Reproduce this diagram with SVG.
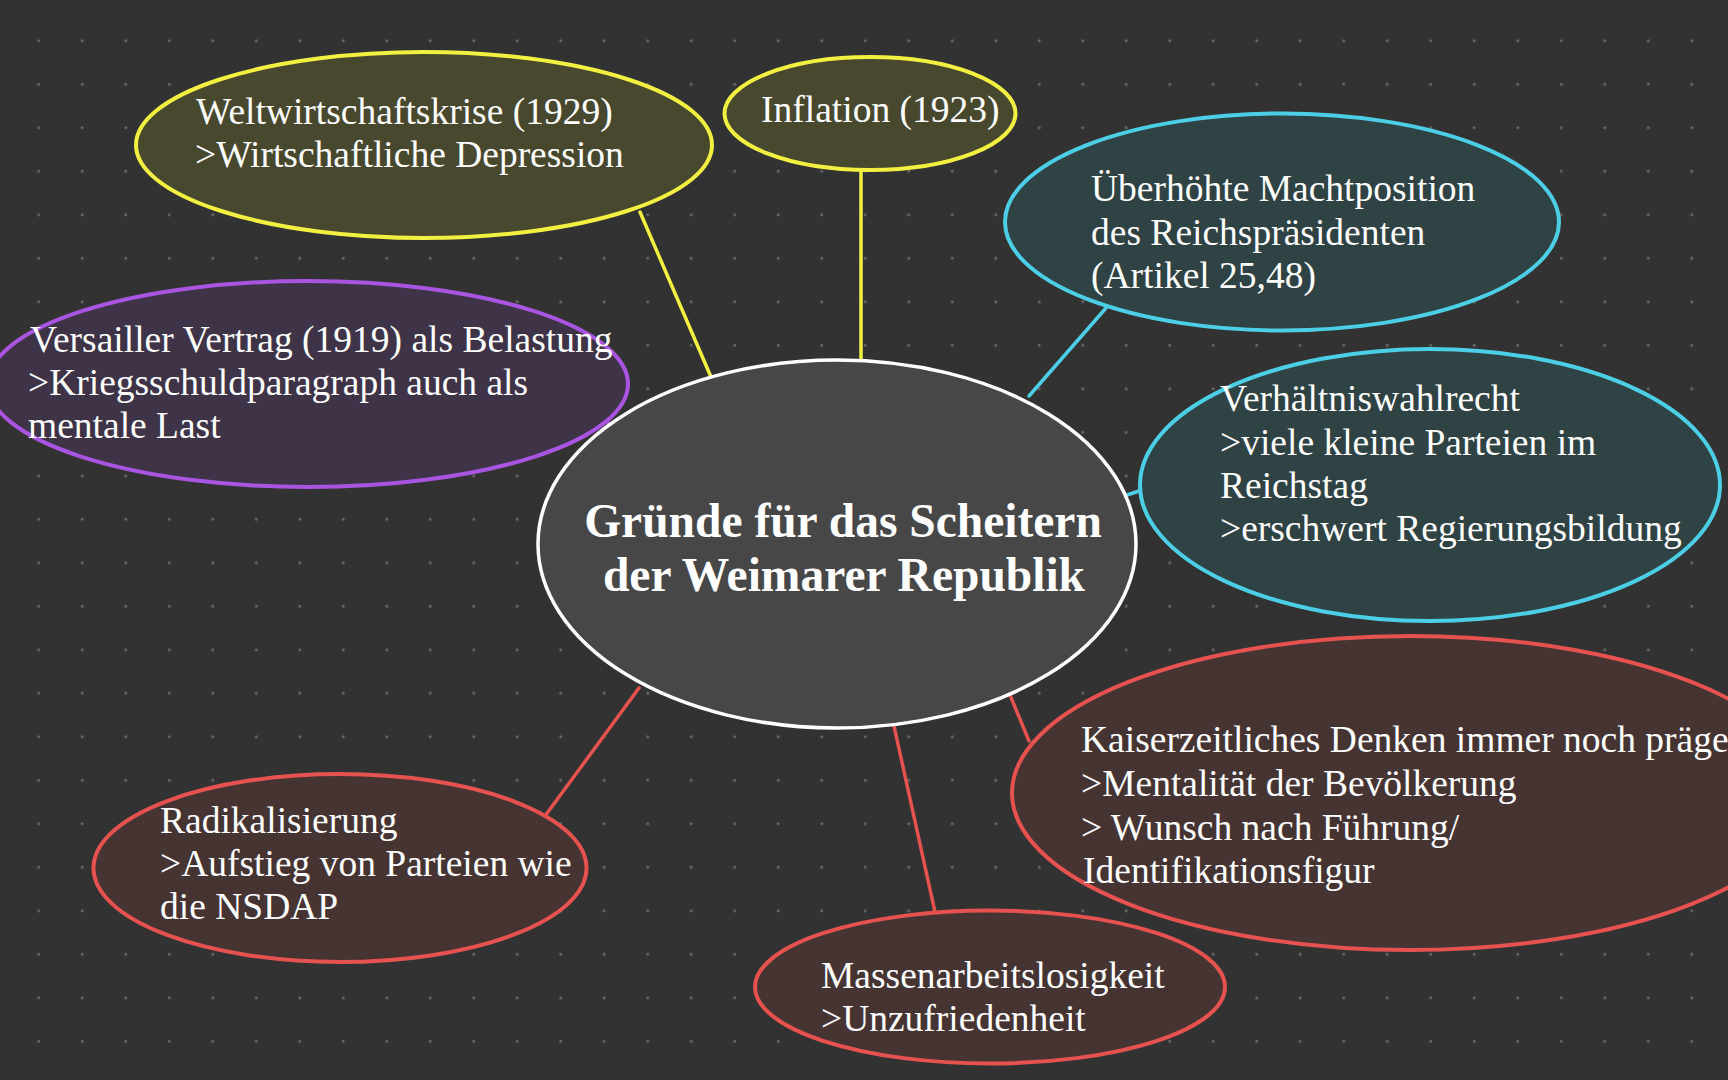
<svg xmlns="http://www.w3.org/2000/svg" width="1728" height="1080" viewBox="0 0 1728 1080">
<defs>
<pattern id="dots" patternUnits="userSpaceOnUse" x="17" y="19" width="43.5" height="43.5">
<circle cx="21.75" cy="21.75" r="1.5" fill="#6a6a6a"/>
</pattern>
<style>
.t{font-family:"Liberation Serif","Times New Roman",serif;font-size:37.5px;fill:#ffffff;}
.title{font-family:"Liberation Serif","Times New Roman",serif;font-size:47.5px;font-weight:bold;fill:#ffffff;text-anchor:middle;}
.yl{fill:#48482f;stroke:#f2f040;stroke-width:4;}
.cy{fill:#2f4244;stroke:#4ccfe6;stroke-width:4;}
.pu{fill:#3e3347;stroke:#a955e2;stroke-width:4;}
.rd{fill:#463433;stroke:#e5524f;stroke-width:4;}
.ce{fill:#474747;stroke:#ffffff;stroke-width:3.5;}
.c{fill:none;stroke-width:3.5;stroke-linecap:round;}
</style>
</defs>
<rect width="1728" height="1080" fill="#323232"/>
<rect width="1728" height="1080" fill="url(#dots)"/>
<g id="connectors">
<line class="c" x1="640" y1="212" x2="711" y2="377" stroke="#f2f040"/>
<line class="c" x1="861" y1="170" x2="861" y2="361" stroke="#f2f040"/>
<line class="c" x1="1106" y1="308" x2="1029" y2="396" stroke="#4ccfe6"/>
<line class="c" x1="1127" y1="495" x2="1142" y2="490" stroke="#4ccfe6"/>
<line class="c" x1="603" y1="416" x2="612" y2="428" stroke="#a955e2" stroke-width="4"/>
<line class="c" x1="639" y1="688" x2="545" y2="816" stroke="#e5524f"/>
<line class="c" x1="894" y1="726" x2="935" y2="912" stroke="#e5524f"/>
<line class="c" x1="1010" y1="695" x2="1029" y2="741" stroke="#e5524f"/>
</g>
<g id="center">
<ellipse class="ce" cx="837" cy="544" rx="299" ry="184"/>
<text class="title" x="843" y="537">Gründe für das Scheitern</text>
<text class="title" x="844" y="591">der Weimarer Republik</text>
</g>
<g id="weltwirtschaftskrise">
<ellipse class="yl" cx="424" cy="145" rx="288" ry="93"/>
<text class="t" x="196" y="124">Weltwirtschaftskrise (1929)</text>
<text class="t" x="195" y="167">&gt;Wirtschaftliche Depression</text>
</g>
<g id="inflation">
<ellipse class="yl" cx="870" cy="113.5" rx="145.5" ry="56.5"/>
<text class="t" x="761" y="122">Inflation (1923)</text>
</g>
<g id="machtposition">
<ellipse class="cy" cx="1282" cy="222" rx="277" ry="108.5"/>
<text class="t" x="1091" y="201">Überhöhte Machtposition</text>
<text class="t" x="1091" y="245">des Reichspräsidenten</text>
<text class="t" x="1091" y="288">(Artikel 25,48)</text>
</g>
<g id="verhaeltniswahlrecht">
<ellipse class="cy" cx="1430" cy="485" rx="290" ry="136"/>
<text class="t" x="1220" y="411">Verhältniswahlrecht</text>
<text class="t" x="1220" y="455">&gt;viele kleine Parteien im</text>
<text class="t" x="1220" y="498">Reichstag</text>
<text class="t" x="1220" y="541">&gt;erschwert Regierungsbildung</text>
</g>
<g id="versailler">
<ellipse class="pu" cx="308" cy="384" rx="320" ry="103"/>
<text class="t" x="30" y="352">Versailler Vertrag (1919) als Belastung</text>
<text class="t" x="28" y="395">&gt;Kriegsschuldparagraph auch als</text>
<text class="t" x="28" y="438">mentale Last</text>
</g>
<g id="radikalisierung">
<ellipse class="rd" cx="340" cy="868" rx="246.5" ry="94"/>
<text class="t" x="160" y="833">Radikalisierung</text>
<text class="t" x="160" y="876">&gt;Aufstieg von Parteien wie</text>
<text class="t" x="160" y="919">die NSDAP</text>
</g>
<g id="massenarbeitslosigkeit">
<ellipse class="rd" cx="990" cy="987" rx="235" ry="76.5"/>
<text class="t" x="821" y="988">Massenarbeitslosigkeit</text>
<text class="t" x="821" y="1031">&gt;Unzufriedenheit</text>
</g>
<g id="kaiserzeitliches">
<ellipse class="rd" cx="1410" cy="793" rx="398" ry="157"/>
<text class="t" x="1081" y="752">Kaiserzeitliches Denken immer noch präge</text>
<text class="t" x="1081" y="796">&gt;Mentalität der Bevölkerung</text>
<text class="t" x="1081" y="840">&gt; Wunsch nach Führung/</text>
<text class="t" x="1083" y="883">Identifikationsfigur</text>
</g>
</svg>
